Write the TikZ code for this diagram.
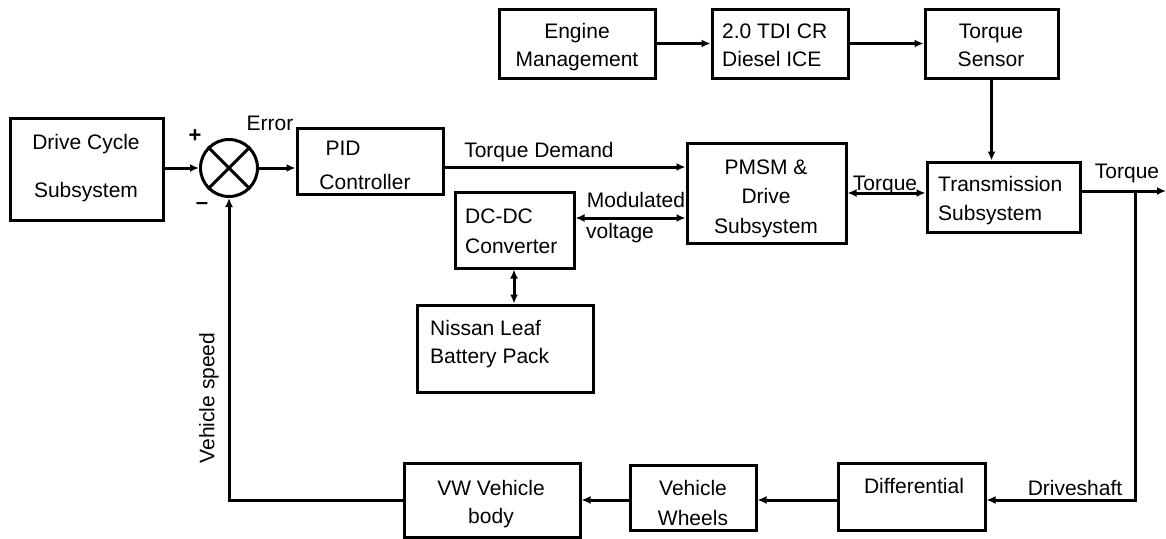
\documentclass[tikz,border=0pt]{standalone}
\usepackage{fontspec}
\setmainfont{Liberation Sans}
\usetikzlibrary{arrows.meta}
\begin{document}
\begin{tikzpicture}[x=1pt,y=-1pt,
  blk/.style={draw=black,line width=3pt,inner sep=0pt},
  txt/.style={font=\fontsize{21}{21}\selectfont,inner sep=0pt},
  con/.style={line width=3pt,-{Latex[length=9pt,width=8pt]}},
  bicon/.style={line width=3pt,{Latex[length=9pt,width=8pt]}-{Latex[length=9pt,width=8pt]}},
  ln/.style={line width=3pt}]
\useasboundingbox (0,0) rectangle (1166,538);
% boxes  (center, size)
\node[blk,minimum width=153,minimum height=102] (dc) at (86.5,169) {};
\node[blk,circle,minimum size=57] (sum) at (229,168) {};
\draw[ln] (sum.north west) -- (sum.south east) (sum.north east) -- (sum.south west);
\node[blk,minimum width=146,minimum height=66] (pid) at (370,161) {};
\node[blk,minimum width=156,minimum height=69] (em) at (577,43.5) {};
\node[blk,minimum width=136,minimum height=69] (ice) at (780,43.5) {};
\node[blk,minimum width=133,minimum height=69] (ts) at (991.5,43.5) {};
\node[blk,minimum width=159,minimum height=100] (pmsm) at (766.5,193) {};
\node[blk,minimum width=153,minimum height=70] (tr) at (1003.5,197) {};
\node[blk,minimum width=119,minimum height=76] (dcdc) at (514.5,230) {};
\node[blk,minimum width=176,minimum height=87] (bat) at (505,348.5) {};
\node[blk,minimum width=176,minimum height=74] (vw) at (492,500) {};
\node[blk,minimum width=126,minimum height=65] (wh) at (693,497.5) {};
\node[blk,minimum width=147,minimum height=67] (dif) at (911.5,496.5) {};
% texts
\node[txt,anchor=base] at (86,149) {Drive Cycle};
\node[txt,anchor=base] at (86,197) {Subsystem};
\node[txt,font=\bfseries\fontsize{22}{22}\selectfont] at (195,136) {+};
\node[txt,font=\bfseries\fontsize{22}{22}\selectfont] at (202,206) {\textendash};
\node[txt,anchor=base] at (270,130) {Error};
\node[txt,anchor=base] at (343,155) {PID};
\node[txt,anchor=base] at (365,189) {Controller};
\node[txt,anchor=base] at (539,157) {Torque Demand};
\node[txt,anchor=base] at (577,38) {Engine};
\node[txt,anchor=base] at (577,66) {Management};
\node[txt,anchor=base west] at (722,38) {2.0 TDI CR};
\node[txt,anchor=base west] at (722,66) {Diesel ICE};
\node[txt,anchor=base] at (991,38) {Torque};
\node[txt,anchor=base] at (991,66) {Sensor};
\node[txt,anchor=base] at (766,174) {PMSM \&};
\node[txt,anchor=base] at (766,203) {Drive};
\node[txt,anchor=base] at (766,233) {Subsystem};
\node[txt,anchor=base] at (885,190) {Torque};
\node[txt,anchor=base west] at (938,191) {Transmission};
\node[txt,anchor=base west] at (938,220) {Subsystem};
\node[txt,anchor=base] at (1127,178) {Torque};
\node[txt,anchor=base west] at (465,223) {DC-DC};
\node[txt,anchor=base west] at (465,253) {Converter};
\node[txt,anchor=base] at (636,207) {Modulated};
\node[txt,anchor=base] at (620,238) {voltage};
\node[txt,anchor=base west] at (430,335) {Nissan Leaf};
\node[txt,anchor=base west] at (430,363) {Battery Pack};
\node[txt,anchor=base] at (491,495) {VW Vehicle};
\node[txt,anchor=base] at (491,523) {body};
\node[txt,anchor=base] at (693,495) {Vehicle};
\node[txt,anchor=base] at (693,525) {Wheels};
\node[txt,anchor=base] at (914,493) {Differential};
\node[txt,anchor=base] at (1075,495) {Driveshaft};
\node[txt,rotate=90] at (209,398) {Vehicle speed};
% connectors
\coordinate (out) at (1166,191);
\coordinate (br) at (1135,191);
\draw[con] (dc.east |- sum.west) -- (sum.west);
\draw[con] (sum.east) -- (pid.west |- sum.east);
\draw[con] (pid.east |- 0,167) -- (pmsm.west |- 0,167);
\draw[con] (em) -- (ice);
\draw[con] (ice) -- (ts);
\draw[con] (ts) -- (ts |- tr.north);
\draw[bicon] (pmsm.east |- 0,193) -- (tr.west |- 0,193);
\draw[bicon] (dcdc.east |- 0,218) -- (pmsm.west |- 0,218);
\draw[bicon] (dcdc.south -| 514,0) -- (bat.north -| 514,0);
\draw[con] (tr.east |- out) -- (out);
\draw[con] (br) -- (br |- 0,500) -- (dif.east |- 0,500);
\draw[con] (dif.west |- 0,500) -- (wh.east |- 0,500);
\draw[con] (wh.west |- 0,500) -- (vw.east |- 0,500);
\draw[con] (vw.west |- 0,500) -- (sum.south |- 0,500) -- (sum.south);
\end{tikzpicture}
\end{document}
